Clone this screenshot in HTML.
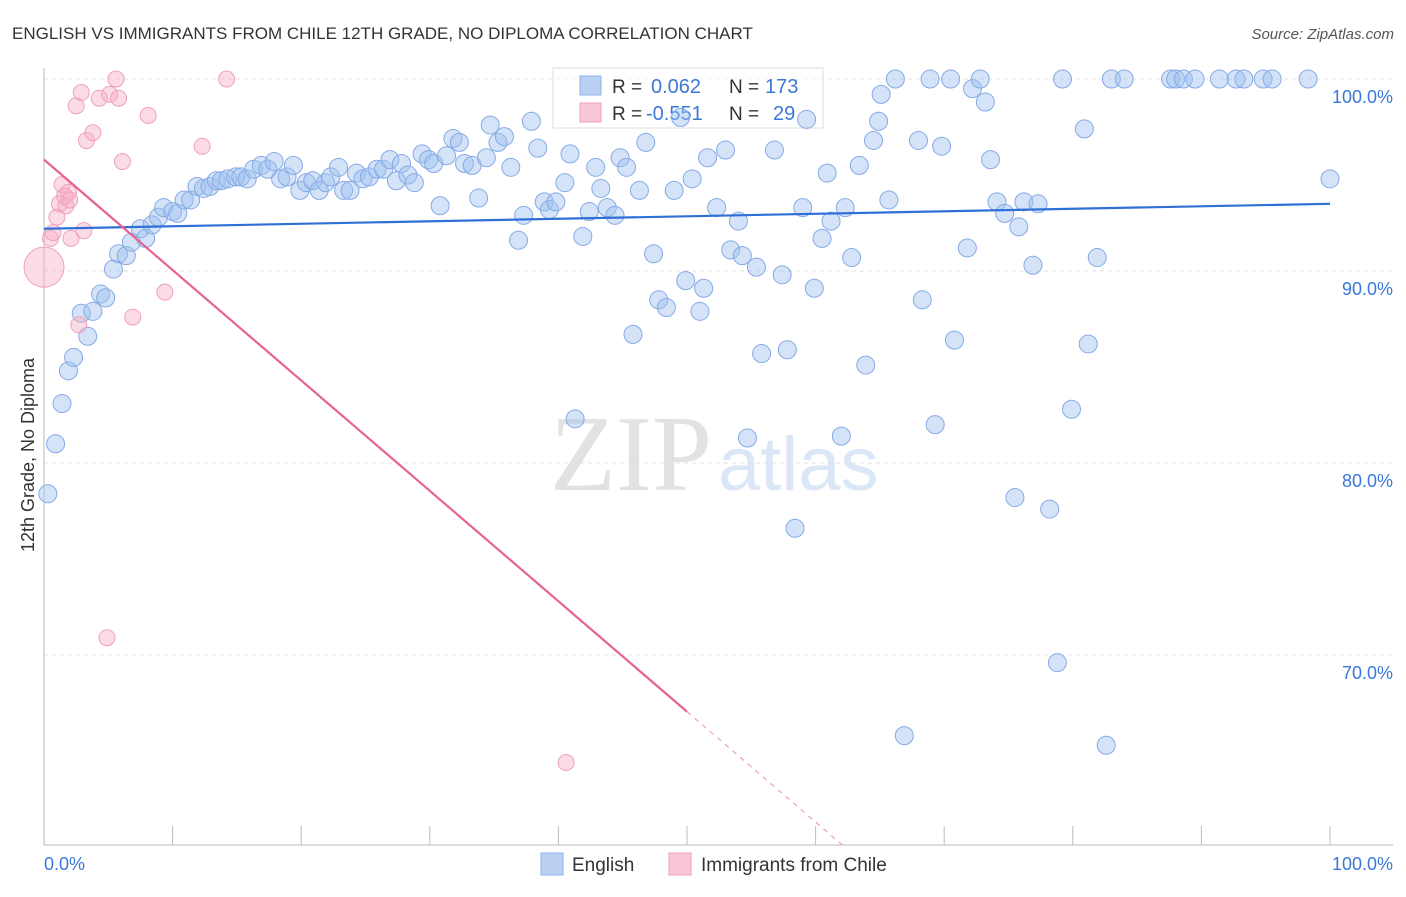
<!DOCTYPE html>
<html><head><meta charset="utf-8"><style>
body{margin:0;background:#fff;font-family:"Liberation Sans",sans-serif;}
</style></head><body>
<svg id="chart" width="1406" height="892" xmlns="http://www.w3.org/2000/svg">
<text x="12" y="39" font-size="17" fill="#333">ENGLISH VS IMMIGRANTS FROM CHILE 12TH GRADE, NO DIPLOMA CORRELATION CHART</text>
<text x="1394" y="39" font-size="15" fill="#555" font-style="italic" text-anchor="end">Source: ZipAtlas.com</text>
<text x="712" y="490" font-size="108" fill="#e2e2e2" font-family="Liberation Serif,serif" text-anchor="end">ZIP</text>
<text x="718" y="490" font-size="76" fill="#dbe6f6">atlas</text>
<g id="grid"></g><g id="axes"></g>
<g>
<rect x="553" y="68" width="270" height="60" fill="rgba(255,255,255,0.6)" stroke="#ddd"/>
<rect x="580" y="76" width="21" height="19" fill="#b9d0f3" stroke="#8fb0e8"/>
<text x="612" y="93" font-size="19" fill="#333">R = </text><text x="651" y="93" font-size="20" fill="#3a78d8">0.062</text>
<text x="729" y="93" font-size="19" fill="#333">N = </text><text x="765" y="93" font-size="20" fill="#3a78d8">173</text>
<rect x="580" y="103" width="21" height="19" fill="#f9c7d6" stroke="#f0a0bb"/>
<text x="612" y="120" font-size="19" fill="#333">R = </text><text x="646" y="120" font-size="20" fill="#3a78d8">-0.551</text>
<text x="729" y="120" font-size="19" fill="#333">N = </text><text x="773" y="120" font-size="20" fill="#3a78d8">29</text>
</g>
<g id="marks"></g>
<text transform="translate(34,455) rotate(-90)" font-size="18" fill="#333" text-anchor="middle">12th Grade, No Diploma</text>
<g>
<rect x="541" y="853" width="22" height="22" fill="#b9d0f3" stroke="#8fb0e8"/>
<text x="572" y="871" font-size="19" fill="#333">English</text>
<rect x="669" y="853" width="22" height="22" fill="#f9c7d6" stroke="#f0a0bb"/>
<text x="701" y="871" font-size="19" fill="#333">Immigrants from Chile</text>
</g>
</svg>
<script>
const blueX=[0.3,0.9,1.4,1.9,2.3,2.9,3.4,3.8,4.4,4.8,5.4,5.8,6.4,6.8,7.5,7.9,8.4,8.9,9.3,10.0,10.4,10.9,11.4,11.9,12.4,12.9,13.4,13.8,14.3,14.9,15.3,15.8,16.3,16.9,17.4,17.9,18.4,18.9,19.4,19.9,20.4,20.9,21.4,21.9,22.3,22.9,23.3,23.8,24.3,24.8,25.3,25.9,26.4,26.9,27.4,27.8,28.3,28.8,29.4,29.9,30.3,30.8,31.3,31.8,32.3,32.7,33.3,33.8,34.4,34.7,35.3,35.8,36.3,36.9,37.3,37.9,38.4,38.9,39.3,39.8,40.5,40.9,41.3,41.9,42.4,42.9,43.3,43.8,44.4,44.8,45.3,45.8,46.3,46.8,47.4,47.8,48.4,49.0,49.5,49.9,50.4,51.0,51.3,51.6,52.3,53.0,53.4,54.0,54.3,54.7,55.4,55.8,56.8,57.4,57.8,58.4,59.0,59.3,59.9,60.5,60.9,61.2,62.0,62.3,62.8,63.4,63.9,64.5,64.9,65.1,65.7,66.2,66.9,68.0,68.3,68.9,69.3,69.8,70.5,70.8,71.8,72.2,72.8,73.2,73.6,74.1,74.7,75.5,75.8,76.2,76.9,77.3,78.8,78.2,79.2,79.9,80.9,81.2,81.9,82.6,83.0,84.0,87.6,88.0,88.6,89.5,91.4,92.7,93.3,94.8,95.5,98.3,100];
const blueY=[78.4,81.0,83.1,84.8,85.5,87.8,86.6,87.9,88.8,88.6,90.1,90.9,90.8,91.5,92.2,91.7,92.4,92.8,93.3,93.1,93.0,93.7,93.7,94.4,94.3,94.4,94.7,94.7,94.8,94.9,94.9,94.8,95.3,95.5,95.3,95.7,94.8,94.9,95.5,94.2,94.6,94.7,94.2,94.6,94.9,95.4,94.2,94.2,95.1,94.8,94.9,95.3,95.3,95.8,94.7,95.6,95.0,94.6,96.1,95.8,95.6,93.4,96.0,96.9,96.7,95.6,95.5,93.8,95.9,97.6,96.7,97.0,95.4,91.6,92.9,97.8,96.4,93.6,93.2,93.6,94.6,96.1,82.3,91.8,93.1,95.4,94.3,93.3,92.9,95.9,95.4,86.7,94.2,96.7,90.9,88.5,88.1,94.2,98.0,89.5,94.8,87.9,89.1,95.9,93.3,96.3,91.1,92.6,90.8,81.3,90.2,85.7,96.3,89.8,85.9,76.6,93.3,97.9,89.1,91.7,95.1,92.6,81.4,93.3,90.7,95.5,85.1,96.8,97.8,99.2,93.7,100,65.8,96.8,88.5,100,82.0,96.5,100,86.4,91.2,99.5,100,98.8,95.8,93.6,93.0,78.2,92.3,93.6,90.3,93.5,69.6,77.6,100,82.8,97.4,86.2,90.7,65.3,100,100,100,100,100,100,100,100,100,100,100,100,94.8];
const pinkX=[0,0.5,0.7,1.0,1.2,1.4,1.7,1.9,2.1,2.5,2.7,2.9,3.1,3.3,3.8,4.3,4.9,5.1,5.6,5.8,6.1,6.9,8.1,9.4,12.3,14.2,40.6,1.6,2.0];
const pinkY=[90.2,91.7,92.0,92.8,93.5,94.5,93.4,94.1,91.7,98.6,87.2,99.3,92.1,96.8,97.2,99.0,70.9,99.2,100,99.0,95.7,87.6,98.1,88.9,96.5,100,64.4,93.9,93.7];
const pinkR=[20,8,8,8,8,8,8,8,8,8,8,8,8,8,8,8,8,8,8,8,8,8,8,8,8,8,8,8,8];
const blueTrend=[92.2,93.5];
const pinkTrend=[95.8,38.3];
const yTicks=[100,90,80,70];
const yTickLabels=["100.0%","90.0%","80.0%","70.0%"];
const xTicks=[0,10,20,30,40,50,60,70,80,90,100];

const NS="http://www.w3.org/2000/svg";
const X=v=>44+v*12.86, Y=v=>79+(100-v)*19.2;
function mk(t,a,p){const e=document.createElementNS(NS,t);for(const k in a)e.setAttribute(k,a[k]);p.appendChild(e);return e;}
const grid=document.getElementById('grid'),axes=document.getElementById('axes'),marks=document.getElementById('marks');
yTicks.forEach((t,i)=>{
 const l=mk('line',{x1:44,x2:1393,y1:Y(t),y2:Y(t),stroke:'#e2e2e2','stroke-dasharray':'4,4'},grid);
 
 
 const tx=mk('text',{x:1393,y:Y(t)+24,'font-size':18,fill:'#3a78d8','text-anchor':'end'},axes);
 tx.textContent=yTickLabels[i];
 
 
});
const ax=mk('line',{x1:44,x2:1393,y1:845,y2:845,stroke:'#bbb'},axes);


const ay=mk('line',{x1:44,x2:44,y1:68,y2:845,stroke:'#bbb'},axes);


xTicks.forEach(t=>{
 const l=mk('line',{x1:X(t),x2:X(t),y1:826,y2:845,stroke:'#bbb'},axes);
 
 
});
const x0=mk('text',{x:44,y:870,'font-size':18,fill:'#3a78d8'},axes);x0.textContent='0.0%';


const x1=mk('text',{x:1393,y:870,'font-size':18,fill:'#3a78d8','text-anchor':'end'},axes);x1.textContent='100.0%';


blueX.forEach((v,i)=>{
 const c=mk('circle',{cx:X(v),cy:Y(blueY[i]),r:9,fill:'rgba(160,192,240,0.45)',stroke:'#86aae6','stroke-width':1},marks);
 
 
});
pinkX.forEach((v,i)=>{
 const c=mk('circle',{cx:X(v),cy:Y(pinkY[i]),r:pinkR[i],fill:'rgba(247,175,200,0.45)',stroke:'#f0a0bb','stroke-width':1},marks);
 
 
});
const bl=mk('line',{x1:X(0),y1:Y(blueTrend[0]),x2:X(100),y2:Y(blueTrend[1]),stroke:'#2f6fd6','stroke-width':2.2},marks);


const pf=v=>pinkTrend[0]+(pinkTrend[1]-pinkTrend[0])*v/100;
const xEnd=(60.1-pinkTrend[0])/((pinkTrend[1]-pinkTrend[0])/100);
const pl=mk('line',{x1:X(0),y1:Y(pf(0)),x2:X(50),y2:Y(pf(50)),stroke:'#e8628f','stroke-width':2.2},marks);


const pd=mk('line',{x1:X(50),y1:Y(pf(50)),x2:X(xEnd),y2:Y(pf(xEnd)),stroke:'#eea0b8','stroke-width':1.2,'stroke-dasharray':'5,5'},marks);


</script>
</body></html>
